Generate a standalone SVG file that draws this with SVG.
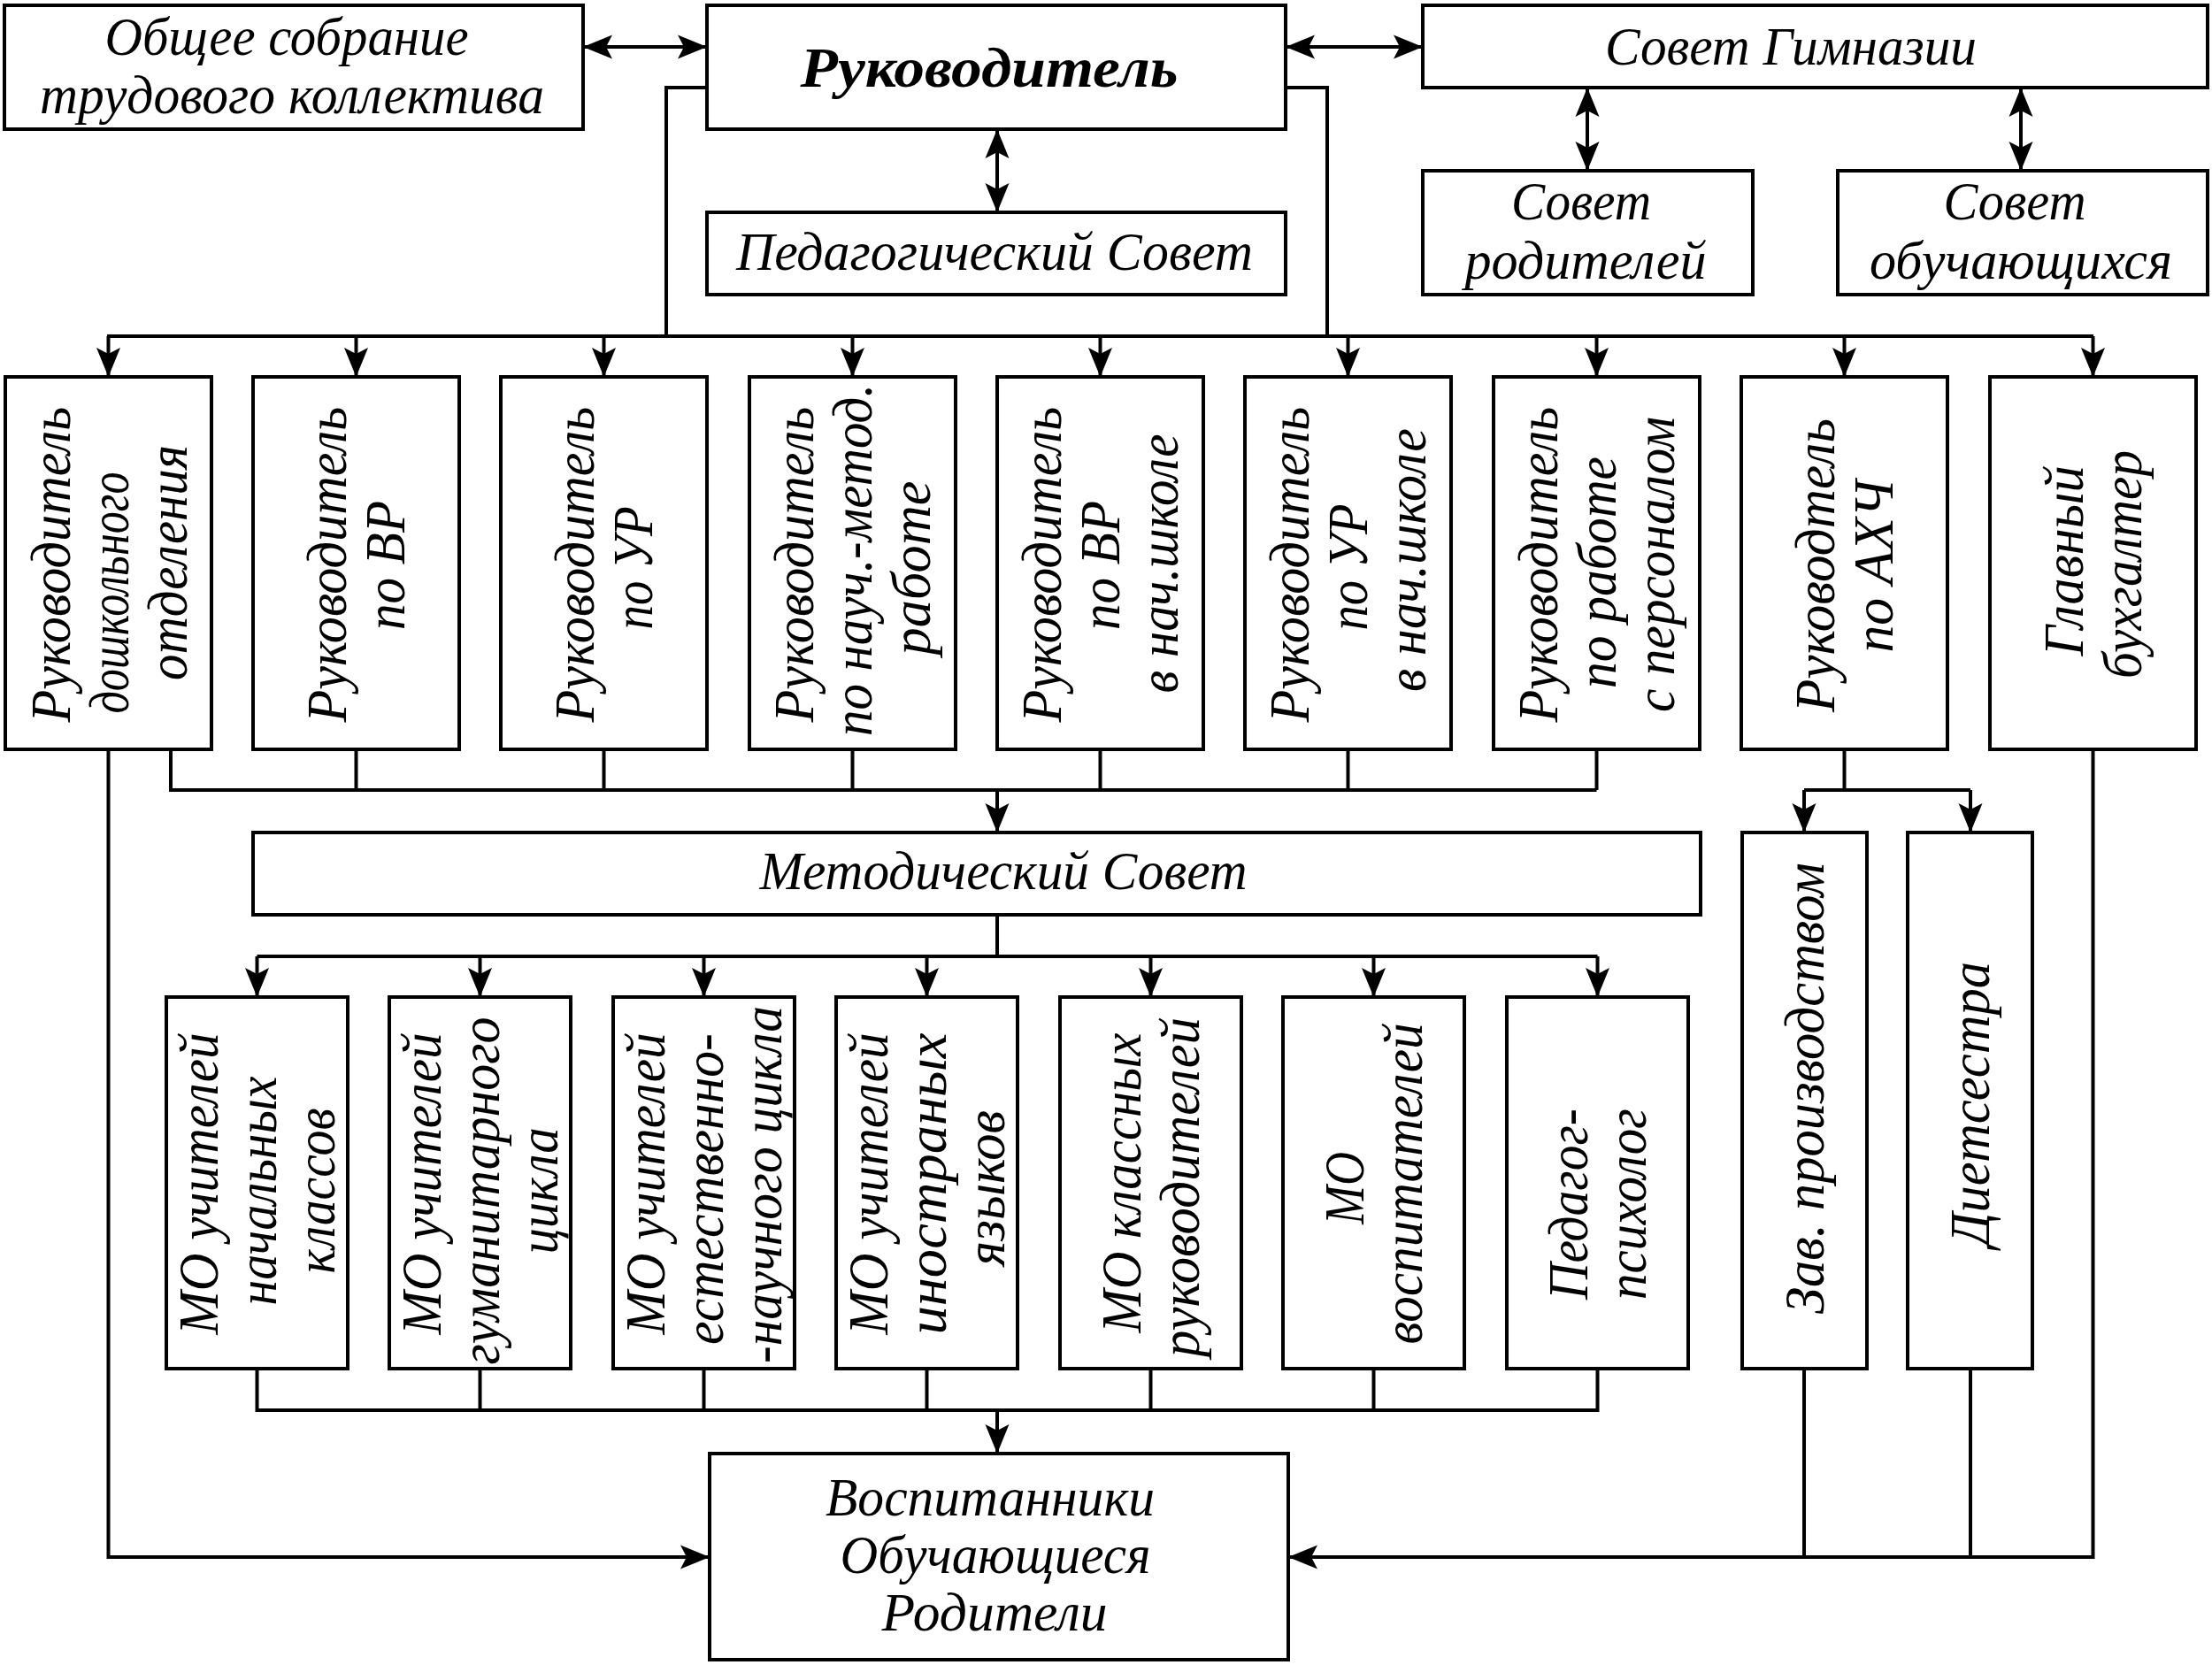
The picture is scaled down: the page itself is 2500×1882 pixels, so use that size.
<svg xmlns="http://www.w3.org/2000/svg" width="2500" height="1882" viewBox="0 0 2500 1882">
<defs>
<marker id="ah" viewBox="-36 -15 38 30" refX="0" refY="0" markerWidth="38" markerHeight="30" markerUnits="userSpaceOnUse" orient="auto-start-reverse">
<path d="M0,0 L-33,-13.5 L-26,0 L-33,13.5 Z" fill="#000"/>
</marker>
</defs>
<style>
rect.b{fill:#fff;stroke:#000;stroke-width:4}
.c path{fill:none;stroke:#000;stroke-width:4}
.a{marker-end:url(#ah)}
.d{marker-start:url(#ah);marker-end:url(#ah)}
text{font-family:"Liberation Serif","Times New Roman",serif;font-style:italic;font-size:61px;fill:#000;text-anchor:middle}
text.h{font-weight:bold;font-size:64px}
g.v text{font-size:64px}
</style>
<rect width="2500" height="1882" fill="#fff"/>

<g id="connectors" class="c">
<path class="d" d="M659,53 H799"/>
<path class="d" d="M1453,53 H1608"/>
<path class="d" d="M1127,146 V240"/>
<path class="d" d="M1794,99 V193"/>
<path class="d" d="M2284,99 V193"/>
<path d="M799,99 H753 V380"/>
<path d="M1453,99 H1500 V380"/>
<path d="M121,380 H2366"/>
<path class="a" d="M122.5,380 V426"/>
<path class="a" d="M402.5,380 V426"/>
<path class="a" d="M682.5,380 V426"/>
<path class="a" d="M963.5,380 V426"/>
<path class="a" d="M1243.5,380 V426"/>
<path class="a" d="M1523.5,380 V426"/>
<path class="a" d="M1804.5,380 V426"/>
<path class="a" d="M2084.5,380 V426"/>
<path class="a" d="M2365.5,380 V426"/>
<path d="M193,847 V893 H1804.5"/>
<path d="M402.5,847 V893 M682.5,847 V893 M963.5,847 V893 M1243.5,847 V893 M1523.5,847 V893 M1804.5,847 V893"/>
<path class="a" d="M1127,893 V941"/>
<path d="M2084.5,847 V893 M2039,893 H2227"/>
<path class="a" d="M2039,893 V941"/>
<path class="a" d="M2227,893 V941"/>
<path d="M1127,1034 V1081 M290.5,1081 H1805.5"/>
<path class="a" d="M290.5,1081 V1127"/>
<path class="a" d="M542.5,1081 V1127"/>
<path class="a" d="M795.5,1081 V1127"/>
<path class="a" d="M1047.5,1081 V1127"/>
<path class="a" d="M1300.5,1081 V1127"/>
<path class="a" d="M1552.5,1081 V1127"/>
<path class="a" d="M1805.5,1081 V1127"/>
<path d="M290.5,1547 V1594 H1805.5 V1547 M542.5,1547 V1594 M795.5,1547 V1594 M1047.5,1547 V1594 M1300.5,1547 V1594 M1552.5,1547 V1594"/>
<path class="a" d="M1127,1594 V1643"/>
<path class="a" d="M122.5,847 V1760 H802"/>
<path class="a" d="M2365.5,847 V1760 H1456"/>
<path d="M2039,1547 V1760 M2227,1547 V1760"/>
</g>

<g id="n-obshee">
<rect class="b" x="5" y="6" width="654" height="140"/>
<text x="324" y="62" textLength="411" lengthAdjust="spacingAndGlyphs">Общее собрание</text>
<text x="330" y="128" textLength="570" lengthAdjust="spacingAndGlyphs">трудового коллектива</text>
</g>
<g id="n-ruk">
<rect class="b" x="799" y="6" width="654" height="140"/>
<text class="h" x="1118" y="98" textLength="427" lengthAdjust="spacingAndGlyphs">Руководитель</text>
</g>
<g id="n-sovet-gimn">
<rect class="b" x="1608" y="6" width="887" height="93"/>
<text x="2024" y="73" textLength="420" lengthAdjust="spacingAndGlyphs">Совет Гимназии</text>
</g>
<g id="n-ped">
<rect class="b" x="799" y="240" width="654" height="93"/>
<text x="1124" y="305" textLength="584" lengthAdjust="spacingAndGlyphs">Педагогический Совет</text>
</g>
<g id="n-sovet-rod">
<rect class="b" x="1608" y="193" width="373" height="140"/>
<text x="1787" y="248" textLength="158" lengthAdjust="spacingAndGlyphs">Совет</text>
<text x="1792" y="315" textLength="273" lengthAdjust="spacingAndGlyphs">родителей</text>
</g>
<g id="n-sovet-obuch">
<rect class="b" x="2077" y="193" width="418" height="140"/>
<text x="2277" y="248" textLength="161" lengthAdjust="spacingAndGlyphs">Совет</text>
<text x="2284" y="315" textLength="342" lengthAdjust="spacingAndGlyphs">обучающихся</text>
</g>

<g id="n-r1" class="v">
<rect class="b" x="6" y="426" width="233" height="421"/>
<text transform="translate(79,638) rotate(-90)" textLength="357" lengthAdjust="spacingAndGlyphs">Руководитель</text>
<text transform="translate(145,670) rotate(-90)" textLength="273" lengthAdjust="spacingAndGlyphs">дошкольного</text>
<text transform="translate(211,636) rotate(-90)" textLength="266" lengthAdjust="spacingAndGlyphs">отделения</text>
</g>
<g id="n-r2" class="v">
<rect class="b" x="286" y="426" width="233" height="421"/>
<text transform="translate(391,638) rotate(-90)" textLength="357" lengthAdjust="spacingAndGlyphs">Руководитель</text>
<text transform="translate(457,639) rotate(-90)" textLength="146" lengthAdjust="spacingAndGlyphs">по ВР</text>
</g>
<g id="n-r3" class="v">
<rect class="b" x="566" y="426" width="233" height="421"/>
<text transform="translate(671,638) rotate(-90)" textLength="357" lengthAdjust="spacingAndGlyphs">Руководитель</text>
<text transform="translate(737,642) rotate(-90)" textLength="139" lengthAdjust="spacingAndGlyphs">по УР</text>
</g>
<g id="n-r4" class="v">
<rect class="b" x="847" y="426" width="233" height="421"/>
<text transform="translate(919,638) rotate(-90)" textLength="357" lengthAdjust="spacingAndGlyphs">Руководитель</text>
<text transform="translate(985,633) rotate(-90)" textLength="398" lengthAdjust="spacingAndGlyphs">по науч.-метод.</text>
<text transform="translate(1051,642) rotate(-90)" textLength="197" lengthAdjust="spacingAndGlyphs">работе</text>
</g>
<g id="n-r5" class="v">
<rect class="b" x="1127" y="426" width="233" height="421"/>
<text transform="translate(1199,638) rotate(-90)" textLength="357" lengthAdjust="spacingAndGlyphs">Руководитель</text>
<text transform="translate(1265,639) rotate(-90)" textLength="146" lengthAdjust="spacingAndGlyphs">по ВР</text>
<text transform="translate(1331,637) rotate(-90)" textLength="293" lengthAdjust="spacingAndGlyphs">в нач.школе</text>
</g>
<g id="n-r6" class="v">
<rect class="b" x="1407" y="426" width="233" height="421"/>
<text transform="translate(1479,638) rotate(-90)" textLength="357" lengthAdjust="spacingAndGlyphs">Руководитель</text>
<text transform="translate(1545,641) rotate(-90)" textLength="143" lengthAdjust="spacingAndGlyphs">по УР</text>
<text transform="translate(1611,633) rotate(-90)" textLength="298" lengthAdjust="spacingAndGlyphs">в нач.школе</text>
</g>
<g id="n-r7" class="v">
<rect class="b" x="1688" y="426" width="233" height="421"/>
<text transform="translate(1760,638) rotate(-90)" textLength="357" lengthAdjust="spacingAndGlyphs">Руководитель</text>
<text transform="translate(1826,647) rotate(-90)" textLength="262" lengthAdjust="spacingAndGlyphs">по работе</text>
<text transform="translate(1892,638) rotate(-90)" textLength="334" lengthAdjust="spacingAndGlyphs">с персоналом</text>
</g>
<g id="n-r8" class="v">
<rect class="b" x="1968" y="426" width="233" height="421"/>
<text transform="translate(2073,639) rotate(-90)" textLength="332" lengthAdjust="spacingAndGlyphs">Руководтель</text>
<text transform="translate(2139,640) rotate(-90)" textLength="195" lengthAdjust="spacingAndGlyphs">по АХЧ</text>
</g>
<g id="n-r9" class="v">
<rect class="b" x="2249" y="426" width="233" height="421"/>
<text transform="translate(2354,634) rotate(-90)" textLength="215" lengthAdjust="spacingAndGlyphs">Главный</text>
<text transform="translate(2420,638) rotate(-90)" textLength="258" lengthAdjust="spacingAndGlyphs">бухгалтер</text>
</g>

<g id="n-metod">
<rect class="b" x="286" y="941" width="1636" height="93"/>
<text x="1134" y="1005" textLength="551" lengthAdjust="spacingAndGlyphs">Методический Совет</text>
</g>
<g id="n-zav" class="v">
<rect class="b" x="1969" y="941" width="141" height="606"/>
<text transform="translate(2061,1230) rotate(-90)" textLength="510" lengthAdjust="spacingAndGlyphs">Зав. производством</text>
</g>
<g id="n-diet" class="v">
<rect class="b" x="2156" y="941" width="141" height="606"/>
<text transform="translate(2248,1248) rotate(-90)" textLength="322" lengthAdjust="spacingAndGlyphs">Диетсестра</text>
</g>

<g id="n-mo1" class="v">
<rect class="b" x="188" y="1127" width="205" height="420"/>
<text transform="translate(246,1338) rotate(-90)" textLength="341" lengthAdjust="spacingAndGlyphs">МО учителей</text>
<text transform="translate(312,1346) rotate(-90)" textLength="259" lengthAdjust="spacingAndGlyphs">начальных</text>
<text transform="translate(378,1346) rotate(-90)" textLength="187" lengthAdjust="spacingAndGlyphs">классов</text>
</g>
<g id="n-mo2" class="v">
<rect class="b" x="440" y="1127" width="205" height="420"/>
<text transform="translate(498,1338) rotate(-90)" textLength="341" lengthAdjust="spacingAndGlyphs">МО учителей</text>
<text transform="translate(564,1346) rotate(-90)" textLength="393" lengthAdjust="spacingAndGlyphs">гуманитарного</text>
<text transform="translate(630,1346) rotate(-90)" textLength="143" lengthAdjust="spacingAndGlyphs">цикла</text>
</g>
<g id="n-mo3" class="v">
<rect class="b" x="693" y="1127" width="205" height="420"/>
<text transform="translate(751,1338) rotate(-90)" textLength="341" lengthAdjust="spacingAndGlyphs">МО учителей</text>
<text transform="translate(817,1344) rotate(-90)" textLength="352" lengthAdjust="spacingAndGlyphs">естественно-</text>
<text transform="translate(883,1339) rotate(-90)" textLength="404" lengthAdjust="spacingAndGlyphs">-научного цикла</text>
</g>
<g id="n-mo4" class="v">
<rect class="b" x="945" y="1127" width="205" height="420"/>
<text transform="translate(1003,1338) rotate(-90)" textLength="341" lengthAdjust="spacingAndGlyphs">МО учителей</text>
<text transform="translate(1069,1338) rotate(-90)" textLength="341" lengthAdjust="spacingAndGlyphs">иностраных</text>
<text transform="translate(1135,1343) rotate(-90)" textLength="176" lengthAdjust="spacingAndGlyphs">языков</text>
</g>
<g id="n-mo5" class="v">
<rect class="b" x="1198" y="1127" width="205" height="420"/>
<text transform="translate(1289,1337) rotate(-90)" textLength="339" lengthAdjust="spacingAndGlyphs">МО классных</text>
<text transform="translate(1355,1342) rotate(-90)" textLength="384" lengthAdjust="spacingAndGlyphs">руководителей</text>
</g>
<g id="n-mo6" class="v">
<rect class="b" x="1450" y="1127" width="205" height="420"/>
<text transform="translate(1541,1343) rotate(-90)" textLength="82" lengthAdjust="spacingAndGlyphs">МО</text>
<text transform="translate(1607,1338) rotate(-90)" textLength="363" lengthAdjust="spacingAndGlyphs">воспитателей</text>
</g>
<g id="n-mo7" class="v">
<rect class="b" x="1703" y="1127" width="205" height="420"/>
<text transform="translate(1794,1361) rotate(-90)" textLength="216" lengthAdjust="spacingAndGlyphs">Педагог-</text>
<text transform="translate(1860,1361) rotate(-90)" textLength="216" lengthAdjust="spacingAndGlyphs">психолог</text>
</g>

<g id="n-vosp">
<rect class="b" x="802" y="1643" width="654" height="233"/>
<text x="1119" y="1713" textLength="372" lengthAdjust="spacingAndGlyphs">Воспитанники</text>
<text x="1125" y="1778" textLength="351" lengthAdjust="spacingAndGlyphs">Обучающиеся</text>
<text x="1124" y="1843" textLength="255" lengthAdjust="spacingAndGlyphs">Родители</text>
</g>
</svg>
